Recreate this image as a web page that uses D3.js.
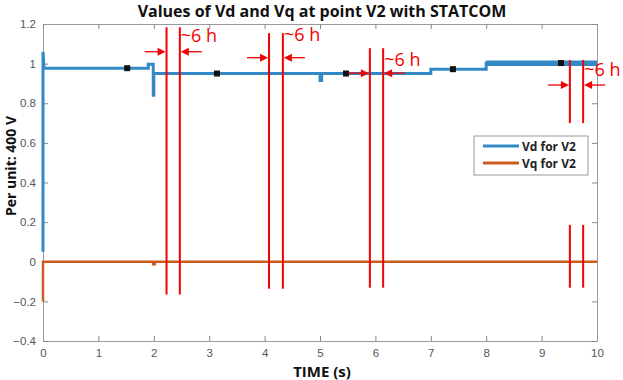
<!doctype html>
<html>
<head>
<meta charset="utf-8">
<script src="https://cdn.jsdelivr.net/npm/d3@7"></script>
<style>
  html, body { margin: 0; padding: 0; background: #fff; }
  #viz svg { display: block; }
  .tick text { font-family: "Liberation Sans", Arial, sans-serif; font-size: 11.5px; fill: #555; }
  .tick line { stroke: #888; }
  .domain { stroke: #999; }
</style>
</head>
<body>
<div id="viz"></div>
<script>
// ---- data ----
var xTicks = [0, 1, 2, 3, 4, 5, 6, 7, 8, 9, 10];
var yTicks = [-0.4, -0.2, 0, 0.2, 0.4, 0.6, 0.8, 1, 1.2];

var vdTime  = [0, 0, 0.02, 1.9, 1.9, 1.99, 1.99, 2.0, 2.0, 5.0, 5.0, 5.03, 5.03, 7.0, 7.0, 8.0, 8.0, 10];
var vdValue = [0.05, 1.06, 0.977, 0.977, 0.997, 0.997, 0.84, 0.84, 0.95, 0.95, 0.915, 0.915, 0.95, 0.95, 0.972, 0.972, 1.003, 1.003];

// oscillating band of Vd after t = 8 s
var bandTime = [8, 10];
var bandLow  = [0.988, 0.988];
var bandHigh = [1.016, 1.016];

var vqTime  = [0, 0, 0.02, 1.99, 1.99, 2.02, 2.02, 10];
var vqValue = [-0.2, 0, 0, 0, -0.013, -0.013, 0, 0];

// data cursor markers on Vd
var markTime  = [1.52, 3.14, 5.47, 7.4, 9.35];
var markValue = [0.977, 0.95, 0.95, 0.972, 1.003];

// red "~6 h" annotations: line pairs (time), extents, arrows and labels
var annLeft   = [2.23, 4.08, 5.9, 9.51];
var annRight  = [2.47, 4.33, 6.14, 9.75];
var annTop    = [1.184, 1.154, 1.078, 1.018];
var annBottom = [-0.165, -0.136, -0.131, 0.70];
var annArrowY = [1.06, 1.03, 0.952, 0.892];
var annTextY  = [1.108, 1.115, 0.99, 0.94];
var annText   = ["~6 h", "~6 h", "~6 h", "~6 h"];
// extra lower segment of the last pair
var ann4LowTop = 0.186, ann4LowBottom = -0.131;

var seriesNames = ["Vd for V2", "Vq for V2"];
var seriesColors = ["#3389c6", "#cc5b1f"];

// ---- layout ----
var W = 623, H = 380;
var margin = { left: 43, right: 26, top: 24, bottom: 39 };
var iw = W - margin.left - margin.right;
var ih = H - margin.top - margin.bottom;

var svg = d3.select("#viz").append("svg").attr("width", W).attr("height", H);
var g = svg.append("g").attr("transform", "translate(" + margin.left + "," + margin.top + ")");

var x = d3.scaleLinear().domain([0, 10]).range([0, iw]);
var y = d3.scaleLinear().domain([-0.4, 1.2]).range([ih, 0]);

// axes, ticks pointing inwards (matlab box)
g.append("g").attr("transform", "translate(0," + ih + ")")
  .call(d3.axisBottom(x).tickValues(xTicks).tickSizeInner(-5).tickSizeOuter(0).tickPadding(8).tickFormat(d3.format("d")));
g.append("g")
  .call(d3.axisLeft(y).tickValues(yTicks).tickSizeInner(-5).tickSizeOuter(0).tickPadding(7)
    .tickFormat(function (d) { return d3.format("~g")(d); }));
g.append("g")
  .call(d3.axisTop(x).tickValues(xTicks).tickSizeInner(-5).tickSizeOuter(0).tickFormat(""));
g.append("g").attr("transform", "translate(" + iw + ",0)")
  .call(d3.axisRight(y).tickValues(yTicks).tickSizeInner(-5).tickSizeOuter(0).tickFormat(""));

// Vd band
var band = bandTime.map(function (t, i) { return { t: t, lo: bandLow[i], hi: bandHigh[i] }; });
g.append("path").datum(band)
  .attr("fill", seriesColors[0])
  .attr("d", d3.area().x(function (d) { return x(d.t); })
    .y0(function (d) { return y(d.lo); }).y1(function (d) { return y(d.hi); }));

var line = d3.line().x(function (d) { return x(d[0]); }).y(function (d) { return y(d[1]); });

g.append("path").datum(d3.zip(vdTime, vdValue))
  .attr("fill", "none").attr("stroke", seriesColors[0]).attr("stroke-width", 3)
  .attr("d", line);

g.append("path").datum(d3.zip(vqTime, vqValue))
  .attr("fill", "none").attr("stroke", seriesColors[1]).attr("stroke-width", 2.5)
  .attr("d", line);

// markers
g.selectAll("rect.mark").data(d3.zip(markTime, markValue)).enter().append("rect")
  .attr("class", "mark")
  .attr("x", function (d) { return x(d[0]) - 3; })
  .attr("y", function (d) { return y(d[1]) - 3; })
  .attr("width", 6).attr("height", 6).attr("fill", "#111");

// red annotations
var red = "#f40000";
var ann = g.append("g");
annLeft.forEach(function (t, i) {
  [t, annRight[i]].forEach(function (tt) {
    ann.append("line")
      .attr("x1", x(tt)).attr("x2", x(tt))
      .attr("y1", y(annTop[i])).attr("y2", y(annBottom[i]))
      .attr("stroke", red).attr("stroke-width", 2);
    if (i === 3) {
      ann.append("line")
        .attr("x1", x(tt)).attr("x2", x(tt))
        .attr("y1", y(ann4LowTop)).attr("y2", y(ann4LowBottom))
        .attr("stroke", red).attr("stroke-width", 2);
    }
  });
  var ay = y(annArrowY[i]);
  var xl = x(t) - 1, xr = x(annRight[i]) + 1;
  // left arrow pointing right
  ann.append("line").attr("x1", xl - 21).attr("x2", xl - 6).attr("y1", ay).attr("y2", ay)
    .attr("stroke", red).attr("stroke-width", 1.3);
  ann.append("path").attr("d", "M" + xl + "," + ay + "L" + (xl - 8) + "," + (ay - 4) + "L" + (xl - 8) + "," + (ay + 4) + "Z")
    .attr("fill", red);
  // right arrow pointing left
  ann.append("line").attr("x1", xr + 21).attr("x2", xr + 6).attr("y1", ay).attr("y2", ay)
    .attr("stroke", red).attr("stroke-width", 1.3);
  ann.append("path").attr("d", "M" + xr + "," + ay + "L" + (xr + 8) + "," + (ay - 4) + "L" + (xr + 8) + "," + (ay + 4) + "Z")
    .attr("fill", red);
  ann.append("text")
    .attr("x", x(annRight[i]) + 1).attr("y", y(annTextY[i]))
    .attr("fill", red)
    .style("font-family", "'Open Sans', 'Liberation Sans', sans-serif")
    .style("font-size", "18px")
    .text(annText[i]);
});

// legend
var lg = svg.append("g").attr("transform", "translate(474,136)");
lg.append("rect").attr("width", 114).attr("height", 39)
  .attr("fill", "#fff").attr("stroke", "#999").attr("stroke-width", 1);
seriesNames.forEach(function (name, i) {
  var ly = 10 + i * 17;
  lg.append("line").attr("x1", 9).attr("x2", 45).attr("y1", ly).attr("y2", ly)
    .attr("stroke", seriesColors[i]).attr("stroke-width", 3);
  lg.append("text").attr("x", 48).attr("y", ly + 4.5)
    .style("font-family", "'Open Sans', 'Liberation Sans', sans-serif")
    .style("font-size", "12px").style("font-weight", "bold").attr("fill", "#222")
    .text(name);
});

// title and axis labels
svg.append("text").attr("x", 322).attr("y", 17).attr("text-anchor", "middle")
  .style("font-family", "'Open Sans', 'Liberation Sans', sans-serif")
  .style("font-size", "16px").style("font-weight", "bold").attr("fill", "#111")
  .text("Values of Vd and Vq at point V2 with STATCOM");

svg.append("text").attr("x", 322).attr("y", 377).attr("text-anchor", "middle")
  .style("font-family", "'Open Sans', 'Liberation Sans', sans-serif")
  .style("font-size", "15px").style("font-weight", "bold").attr("fill", "#111")
  .text("TIME (s)");

svg.append("text").attr("transform", "translate(16,166) rotate(-90)").attr("text-anchor", "middle")
  .style("font-family", "'Open Sans', 'Liberation Sans', sans-serif")
  .style("font-size", "14px").style("font-weight", "bold").attr("fill", "#111")
  .text("Per unit: 400 V");
</script>
</body>
</html>
